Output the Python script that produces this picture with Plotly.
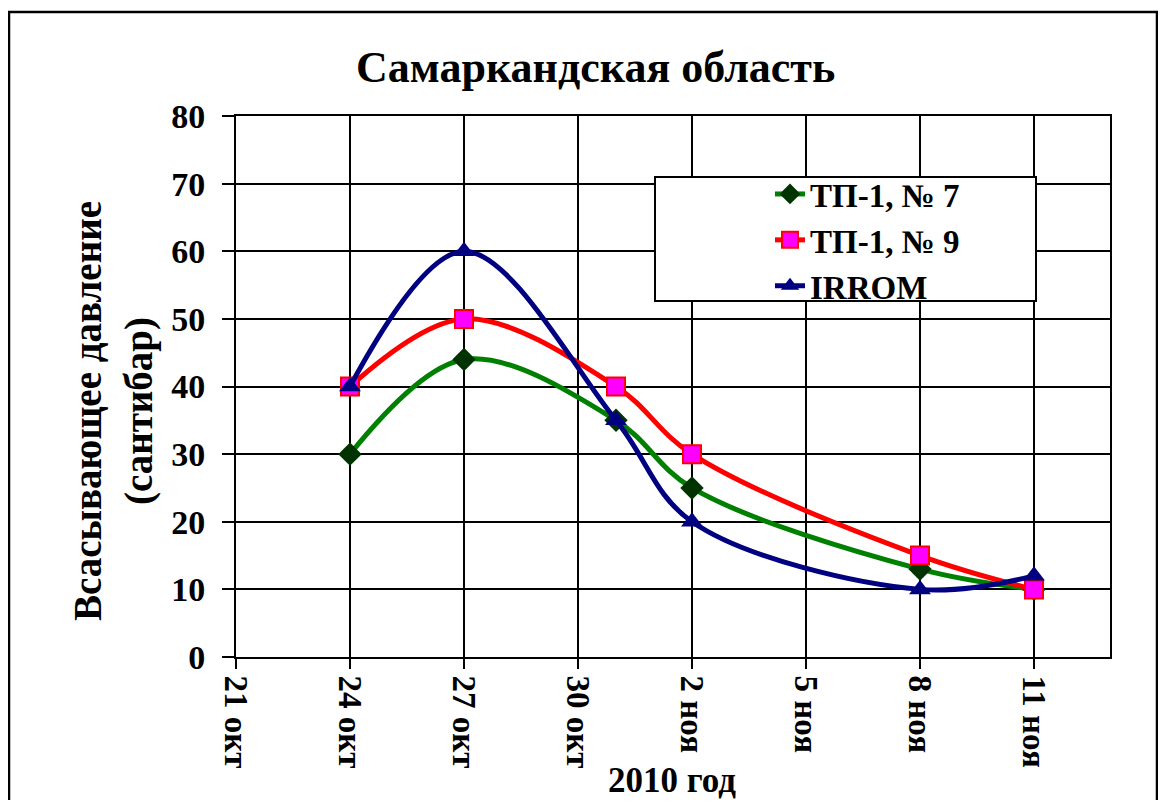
import plotly.graph_objects as go

dates = ["2010-10-24", "2010-10-27", "2010-10-31", "2010-11-02", "2010-11-08", "2010-11-11"]
tp7 = [30, 44, 35, 25, 13, 10]
tp9 = [40, 50, 40, 30, 15, 10]
irrom = [40, 60, 35, 20, 10, 12]

tick_vals = ["2010-10-21", "2010-10-24", "2010-10-27", "2010-10-30",
             "2010-11-02", "2010-11-05", "2010-11-08", "2010-11-11"]
tick_text = ["21 окт", "24 окт", "27 окт", "30 окт", "2 ноя", "5 ноя", "8 ноя", "11 ноя"]
y_ticks = [0, 10, 20, 30, 40, 50, 60, 70, 80]

FONT = "Liberation Serif"

fig = go.Figure()
fig.add_trace(go.Scatter(
    x=dates, y=tp7, name="ТП-1, № 7", mode="lines+markers",
    line=dict(color="#008000", width=5, shape="spline", smoothing=1),
    marker=dict(symbol="diamond", size=18, color="#003300", line=dict(width=0)),
))
fig.add_trace(go.Scatter(
    x=dates, y=tp9, name="ТП-1, № 9", mode="lines+markers",
    line=dict(color="#FF0000", width=5, shape="spline", smoothing=1),
    marker=dict(symbol="square", size=18, color="#FF00FF", line=dict(width=2, color="#FF0000")),
))
fig.add_trace(go.Scatter(
    x=dates, y=irrom, name="IRROM", mode="lines+markers",
    line=dict(color="#000080", width=5, shape="spline", smoothing=1),
    marker=dict(symbol="triangle-up", size=19, color="#000080", line=dict(width=0)),
))

# page is offset by the 8px body margin; work in page coordinates
OFF = 8
W, H = 1150, 792
PL, PR, PT, PB = 236, 1110, 116, 657          # plot area in page pixels
L, T = PL - OFF, PT - OFF
R, B = W - (PR - OFF), H - (PB - OFF)
pw, ph = PR - PL, PB - PT


def px(x):
    return (x - PL) / pw


def py(y):
    return (PB - y) / ph


fig.update_layout(
    width=W, height=H,
    margin=dict(l=L, r=R, t=T, b=B),
    paper_bgcolor="white", plot_bgcolor="white",
    font=dict(family=FONT, color="black", size=30),
    showlegend=True,
    legend=dict(
        x=px(770), y=py(240), xanchor="left", yanchor="middle",
        bgcolor="rgba(0,0,0,0)", borderwidth=0,
        font=dict(family=FONT, size=33, color="black", weight="bold"),
    ),
    xaxis=dict(
        type="date",
        range=["2010-10-21", "2010-11-13"],
        tickvals=tick_vals, ticktext=tick_text, tickangle=90,
        tickfont=dict(family=FONT, size=33, color="black", weight="bold"),
        showgrid=True, gridcolor="black", gridwidth=2,
        showline=True, linecolor="black", linewidth=2, mirror=True,
        ticks="outside", ticklen=10, tickwidth=2, tickcolor="black",
        zeroline=False,
    ),
    yaxis=dict(
        range=[0, 80], tickvals=y_ticks,
        tickfont=dict(family=FONT, size=34, color="black", weight="bold"),
        showgrid=True, gridcolor="black", gridwidth=2,
        showline=True, linecolor="black", linewidth=2, mirror=True,
        ticks="outside", ticklen=12, tickwidth=2, tickcolor="black",
        ticklabelstandoff=10,
        zeroline=False,
    ),
    annotations=[
        dict(text="Самаркандская область", x=px(595), y=py(68), xref="paper", yref="paper",
             xanchor="center", yanchor="middle", showarrow=False,
             font=dict(family=FONT, size=44, color="black", weight="bold")),
        dict(text="Всасывающее давление<br>(сантибар)", x=px(113), y=py(411),
             xref="paper", yref="paper", xanchor="center", yanchor="middle",
             showarrow=False, textangle=-90,
             font=dict(family=FONT, size=39, color="black", weight="bold")),
        dict(text="2010 год", x=px(672), y=py(802), xref="paper", yref="paper",
             xanchor="center", yanchor="bottom", showarrow=False,
             font=dict(family=FONT, size=35, color="black", weight="bold")),
    ],
    shapes=[
        dict(type="rect", xref="paper", yref="paper",
             x0=px(9), x1=px(1157), y0=py(830), y1=py(12),
             line=dict(color="black", width=2.5), fillcolor="rgba(0,0,0,0)", layer="below"),
        dict(type="rect", xref="paper", yref="paper",
             x0=px(655), x1=px(1036), y0=py(301), y1=py(177),
             line=dict(color="black", width=2), fillcolor="white", layer="above"),
    ],
)

fig.write_html("out.html")
